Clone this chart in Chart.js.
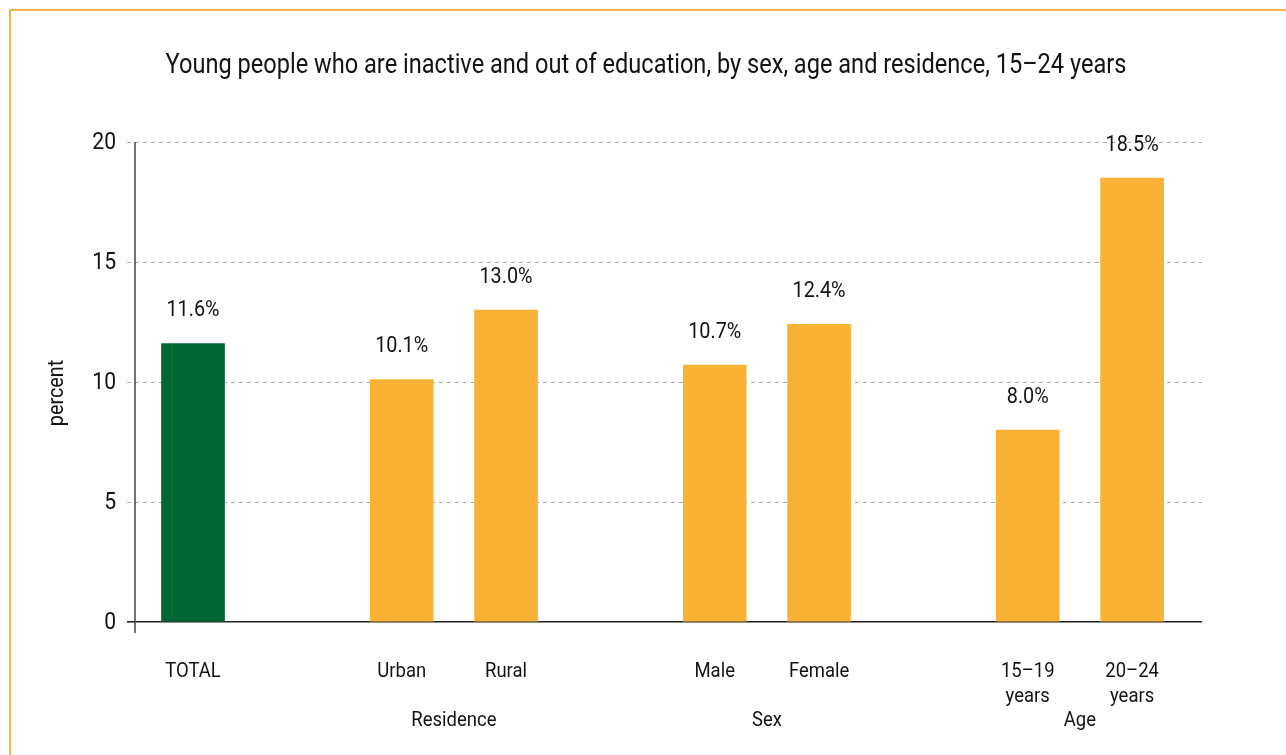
<!DOCTYPE html>
<html>
<head>
<title>Young people inactive and out of education</title>
<meta charset="UTF-8">
<script src="https://cdn.jsdelivr.net/npm/chart.js@4.4.0/dist/chart.umd.min.js"></script>
<style>
	html, body { margin: 0; padding: 0; background: #fff; overflow: hidden; }
	#frame { position: absolute; left: 9px; top: 9px; width: 1400px; height: 900px; border: 2px solid #f7b449; box-sizing: border-box; }
	#wrap { position: absolute; left: 0; top: 0; width: 1286px; height: 755px; }
</style>
</head>
<body>
<div id="frame"></div>
<div id="wrap"><canvas id="chart" width="1286" height="755"></canvas></div>
<script>
// bar labels (one entry per text line) and values, in percent
var categories = [['TOTAL'], ['Urban'], ['Rural'], ['Male'], ['Female'], ['15–19', 'years'], ['20–24', 'years']];
var values = [11.6, 10.1, 13.0, 10.7, 12.4, 8.0, 18.5];
var groupNames = ['', 'Residence', 'Sex', 'Age'];
var groupSizes = [1, 2, 2, 2];
var yTicks = [0, 5, 10, 15, 20];
var titleText = 'Young people who are inactive and out of education, by sex, age and residence, 15–24 years';

var GREEN = '#006633';
var ORANGE = '#f9b233';
var INK = '#131313';
var SQUEEZE = 0.88;

// slot index of each bar: one empty slot between groups
var slots = [];
var groupCentres = [];
var pos = 0;
groupSizes.forEach(function (n) {
	var first = pos;
	for (var i = 0; i < n; i++) slots.push(pos++);
	groupCentres.push((first + pos - 1) / 2);
	pos++;
});

var colors = slots.map(function (s, i) { return i === 0 ? GREEN : ORANGE; });

// narrow text, close to a condensed face
function condText(ctx, text, x, y) {
	ctx.save();
	ctx.translate(x, y);
	ctx.scale(SQUEEZE, 1);
	ctx.fillText(text, 0, 0);
	ctx.restore();
}

var textPlugin = {
	id: 'textPlugin',
	afterDraw: function (chart) {
		var ctx = chart.ctx;
		var xs = chart.scales.x, ys = chart.scales.y;
		var area = chart.chartArea;

		// vertical axis, running a little below zero
		ctx.save();
		ctx.strokeStyle = '#444';
		ctx.lineWidth = 1.5;
		ctx.beginPath();
		ctx.moveTo(area.left, area.top);
		ctx.lineTo(area.left, area.bottom + 11);
		ctx.stroke();

		ctx.fillStyle = INK;
		ctx.textBaseline = 'middle';

		// y tick labels
		ctx.textAlign = 'right';
		ctx.font = '24px Roboto';
		yTicks.forEach(function (v) {
			condText(ctx, String(v), 116, ys.getPixelForValue(v) + 1);
		});

		ctx.textAlign = 'center';

		// title
		ctx.font = '26.8px Roboto';
		condText(ctx, titleText, 646, 66);

		// value labels
		ctx.font = '22.5px Roboto';
		values.forEach(function (v, i) {
			var px = xs.getPixelForValue(slots[i]);
			var py = ys.getPixelForValue(v);
			condText(ctx, v.toFixed(1) + '%', px, py - 33);
		});

		// category labels
		ctx.font = '21px Roboto';
		categories.forEach(function (lines, i) {
			var px = xs.getPixelForValue(slots[i]);
			lines.forEach(function (t, j) {
				condText(ctx, t, px, 672 + j * 25);
			});
		});

		// group labels
		groupNames.forEach(function (g, i) {
			if (!g) return;
			condText(ctx, g, xs.getPixelForValue(groupCentres[i]), 721);
		});

		// axis title
		ctx.save();
		ctx.translate(57, 393);
		ctx.rotate(-Math.PI / 2);
		ctx.font = '22.5px Roboto';
		condText(ctx, 'percent', 0, 0);
		ctx.restore();
		ctx.restore();
	}
};

var ctx = document.getElementById('chart').getContext('2d');
var chart = new Chart(ctx, {
	type: 'bar',
	data: {
		datasets: [{
			data: slots.map(function (s, i) { return { x: s, y: values[i] }; }),
			backgroundColor: colors,
			barThickness: 63,
			borderWidth: 0
		}]
	},
	options: {
		responsive: false,
		animation: false,
		layout: { padding: { left: 0, top: 142, right: 84, bottom: 133 } },
		plugins: { legend: { display: false }, tooltip: { enabled: false } },
		scales: {
			x: {
				type: 'linear',
				display: false,
				offset: false,
				min: -0.556,
				max: 9.67
			},
			y: {
				min: 0,
				max: 20,
				afterFit: function (scale) { scale.width = 135; },
				afterBuildTicks: function (scale) {
					scale.ticks = yTicks.map(function (v) { return { value: v }; });
				},
				ticks: { display: false },
				grid: {
					color: function (c) { return c.tick && c.tick.value === 0 ? '#222' : '#a8a8a8'; },
					lineWidth: function (c) { return c.tick && c.tick.value === 0 ? 1.6 : 1; },
					tickLength: 8,
					tickColor: function (c) { return c.tick && c.tick.value === 0 ? '#222' : '#a8a8a8'; },
					tickBorderDash: function (c) { return c.tick && c.tick.value === 0 ? [] : [4, 4]; }
				},
				border: {
					display: false,
					dash: function (c) { return c.tick && c.tick.value === 0 ? [] : [4, 4]; }
				}
			}
		}
	},
	plugins: [textPlugin]
});
</script>
</body>
</html>
